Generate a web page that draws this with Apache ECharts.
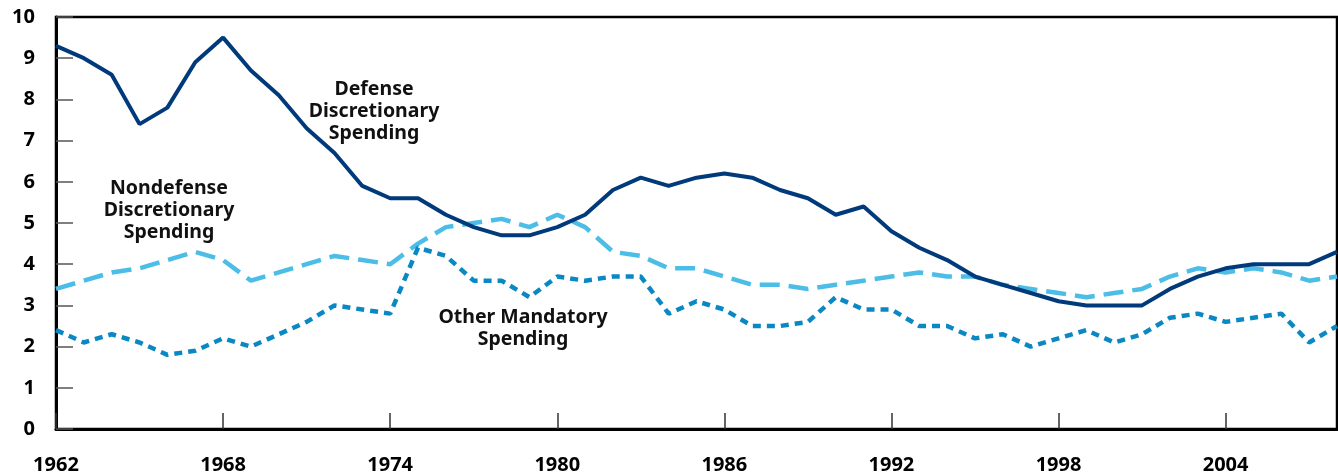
<!DOCTYPE html>
<html>
<head>
<meta charset="utf-8">
<script src="https://cdn.jsdelivr.net/npm/echarts@6/dist/echarts.min.js"></script>
<style>
  html, body { margin: 0; padding: 0; background: #fff; }
  #chart { width: 1338px; height: 476px; }
</style>
</head>
<body>
<div id="chart"></div>
<script>
// years 1962..2008
const years = []
for (let y = 1962; y <= 2008; y++) years.push(y)

const defense = [
  9.3, 9.0, 8.6, 7.4, 7.8, 8.9, 9.5, 8.7, 8.1, 7.3,
  6.7, 5.9, 5.6, 5.6, 5.2, 4.9, 4.7, 4.7, 4.9, 5.2,
  5.8, 6.1, 5.9, 6.1, 6.2, 6.1, 5.8, 5.6, 5.2, 5.4,
  4.8, 4.4, 4.1, 3.7, 3.5, 3.3, 3.1, 3.0, 3.0, 3.0,
  3.4, 3.7, 3.9, 4.0, 4.0, 4.0, 4.3
]
const nondefense = [
  3.4, 3.6, 3.8, 3.9, 4.1, 4.3, 4.1, 3.6, 3.8, 4.0,
  4.2, 4.1, 4.0, 4.5, 4.9, 5.0, 5.1, 4.9, 5.2, 4.9,
  4.3, 4.2, 3.9, 3.9, 3.7, 3.5, 3.5, 3.4, 3.5, 3.6,
  3.7, 3.8, 3.7, 3.7, 3.5, 3.4, 3.3, 3.2, 3.3, 3.4,
  3.7, 3.9, 3.8, 3.9, 3.8, 3.6, 3.7
]
const otherMandatory = [
  2.4, 2.1, 2.3, 2.1, 1.8, 1.9, 2.2, 2.0, 2.3, 2.6,
  3.0, 2.9, 2.8, 4.4, 4.2, 3.6, 3.6, 3.2, 3.7, 3.6,
  3.7, 3.7, 2.8, 3.1, 2.9, 2.5, 2.5, 2.6, 3.2, 2.9,
  2.9, 2.5, 2.5, 2.2, 2.3, 2.0, 2.2, 2.4, 2.1, 2.3,
  2.7, 2.8, 2.6, 2.7, 2.8, 2.1, 2.5
]

const FONT = '"Noto Sans", sans-serif'

const pairs = arr => arr.map((v, i) => [years[i], v])

const chart = echarts.init(document.getElementById('chart'))

chart.setOption({
  animation: false,
  grid: {
    left: 56, right: 1, top: 17, bottom: 47,
    show: true, borderColor: '#000', borderWidth: 2.5
  },
  xAxis: {
    type: 'value',
    min: 1962, max: 2008, interval: 6,
    axisLine: { show: true, lineStyle: { color: '#000', width: 3 } },
    axisTick: { show: true, inside: true, length: 16, lineStyle: { color: '#333', width: 1.5 } },
    axisLabel: {
      color: '#000', fontFamily: FONT, fontWeight: 'bold', fontSize: 20, margin: 26,
      showMaxLabel: false,
      formatter: v => (v === 2008 ? '' : String(v))
    },
    splitLine: { show: false }
  },
  yAxis: {
    type: 'value',
    min: 0, max: 10, interval: 1,
    axisLine: { show: true, lineStyle: { color: '#000', width: 3 } },
    axisTick: { show: true, inside: true, length: 17, lineStyle: { color: '#555', width: 1.5 } },
    axisLabel: { color: '#000', fontFamily: FONT, fontWeight: 'bold', fontSize: 20, margin: 21 },
    splitLine: { show: false }
  },
  series: [
    {
      name: 'Nondefense Discretionary Spending',
      type: 'line',
      data: pairs(nondefense),
      showSymbol: false,
      lineStyle: { color: '#4bbde6', width: 4.5, type: [20, 9] },
      z: 2
    },
    {
      name: 'Other Mandatory Spending',
      type: 'line',
      data: pairs(otherMandatory),
      showSymbol: false,
      lineStyle: { color: '#0a88c4', width: 4.5, type: [8, 6] },
      z: 3
    },
    {
      name: 'Defense Discretionary Spending',
      type: 'line',
      data: pairs(defense),
      showSymbol: false,
      lineStyle: { color: '#003a7a', width: 4 },
      z: 4
    }
  ],
  graphic: [
    {
      type: 'text', x: 374, y: 111,
      style: {
        text: 'Defense\nDiscretionary\nSpending',
        font: 'bold 19.5px ' + FONT, fill: '#111',
        textAlign: 'center', textVerticalAlign: 'middle', lineHeight: 22
      }
    },
    {
      type: 'text', x: 169, y: 210,
      style: {
        text: 'Nondefense\nDiscretionary\nSpending',
        font: 'bold 19.5px ' + FONT, fill: '#111',
        textAlign: 'center', textVerticalAlign: 'middle', lineHeight: 22
      }
    },
    {
      type: 'text', x: 523, y: 328,
      style: {
        text: 'Other Mandatory\nSpending',
        font: 'bold 19.5px ' + FONT, fill: '#111',
        textAlign: 'center', textVerticalAlign: 'middle', lineHeight: 22
      }
    }
  ]
})
</script>
</body>
</html>
